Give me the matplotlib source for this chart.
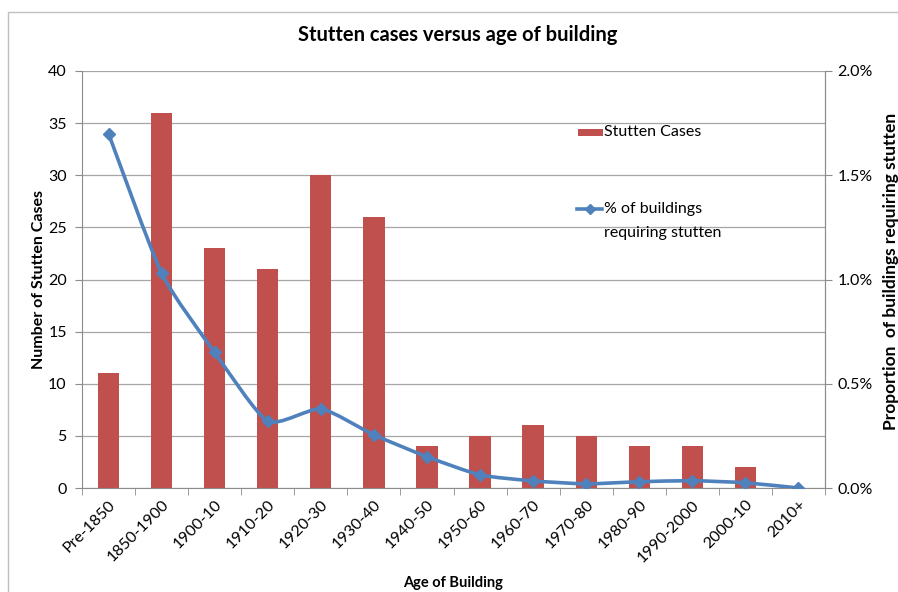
import matplotlib
matplotlib.use("Agg")
import matplotlib.pyplot as plt
import numpy as np
from matplotlib.path import Path
from matplotlib.patches import PathPatch, Rectangle
from matplotlib.lines import Line2D
from matplotlib.ticker import FuncFormatter, MultipleLocator, FixedLocator

plt.rcParams['font.family'] = ['Lato', 'DejaVu Sans']

categories = ["Pre-1850", "1850-1900", "1900-10", "1910-20", "1920-30", "1930-40",
              "1940-50", "1950-60", "1960-70", "1970-80", "1980-90", "1990-2000",
              "2000-10", "2010+"]
stutten_cases = [11, 36, 23, 21, 30, 26, 4, 5, 6, 5, 4, 4, 2, 0]
pct_requiring = [1.70, 1.03, 0.65, 0.32, 0.38, 0.255, 0.15, 0.063, 0.034, 0.02,
                 0.03, 0.035, 0.025, 0.0]

bar_color = "#C0504D"
line_color = "#4F81BD"
grid_color = "#A6A6A6"
axis_color = "#8C8C8C"

W, H = 898, 592
fig = plt.figure(figsize=(W/100, H/100), dpi=100)
fig.patches.append(Rectangle((8/W, -0.05), 1.2, 0.05 + (1 - 12/H), transform=fig.transFigure,
                             fill=False, edgecolor="#BFBFBF", linewidth=1.0))

ax = fig.add_axes([82/W, 1 - 488/H, (825 - 82)/W, (488 - 71)/H])
x = np.arange(len(categories))
ax.bar(x, stutten_cases, width=0.4, color=bar_color, zorder=2)
ax.set_xlim(-0.5, len(categories) - 0.5)
ax.set_ylim(0, 40)
ax.yaxis.set_major_locator(MultipleLocator(5))
ax.grid(axis='y', color=grid_color, linewidth=0.9, zorder=0)
ax.set_axisbelow(True)
ax.spines['top'].set_visible(False)
for s in ['left', 'right', 'bottom']:
    ax.spines[s].set_color(axis_color)
ax.set_xticks(x)
ax.set_xticklabels(categories, rotation=45, ha='right', rotation_mode='anchor', fontsize=11.5)
ax.tick_params(axis='x', length=0, pad=7)
ax.xaxis.set_minor_locator(FixedLocator(np.arange(-0.5, len(categories), 1.0)))
ax.tick_params(axis='x', which='minor', length=5, color=axis_color, direction='out')
ax.tick_params(axis='y', length=5, color=axis_color, labelsize=11.5, pad=6)
ax.set_ylabel("Number of Stutten Cases", fontsize=11.5, fontweight='bold')
ax.yaxis.set_label_coords((46 - 82)/743, 0.5)
ax.set_xlabel("Age of Building", fontsize=10.5, fontweight='bold', labelpad=8)

ax2 = ax.twinx()
ax2.set_ylim(0, 2.0)
ax2.yaxis.set_major_locator(MultipleLocator(0.5))
ax2.yaxis.set_major_formatter(FuncFormatter(lambda v, p: f"{v:.1f}%"))
ax2.tick_params(axis='y', length=5, color=axis_color, labelsize=11.5, pad=4)
for s in ['top', 'left', 'bottom']:
    ax2.spines[s].set_visible(False)
ax2.spines['right'].set_color(axis_color)
ax2.set_ylabel("Proportion  of buildings requiring stutten", fontsize=12.5, fontweight='bold')
ax2.yaxis.set_label_coords((883 - 82)/743, 0.52)

# Smoothed line (Bezier through the data points, Excel-like smoothing)
xs = x.astype(float)
ys = np.array(pct_requiring, dtype=float)
verts = [(xs[0], ys[0])]
codes = [Path.MOVETO]
t = 0.1
for i in range(len(xs) - 1):
    p0 = (xs[i-1], ys[i-1]) if i > 0 else (xs[i], ys[i])
    p1 = (xs[i], ys[i])
    p2 = (xs[i+1], ys[i+1])
    p3 = (xs[i+2], ys[i+2]) if i + 2 < len(xs) else (xs[i+1], ys[i+1])
    c1 = (p1[0] + (p2[0] - p0[0]) * t, p1[1] + (p2[1] - p0[1]) * t)
    c2 = (p2[0] - (p3[0] - p1[0]) * t, p2[1] - (p3[1] - p1[1]) * t)
    verts += [c1, c2, p2]
    codes += [Path.CURVE4] * 3
ax2.add_patch(PathPatch(Path(verts, codes), facecolor='none', edgecolor=line_color,
                        linewidth=2.6, zorder=3, capstyle='round', joinstyle='round'))
ax2.plot(xs, ys, linestyle='none', marker='D', markersize=6, color=line_color, zorder=4)

fig.text(458/W, 1 - 35/H, "Stutten cases versus age of building", ha='center', va='center',
         fontsize=14.5, fontweight='bold')

# Legend (drawn manually to match Excel's layout)
fig.patches.append(Rectangle((578/W, 1 - 136/H), 25/W, 7/H, transform=fig.transFigure,
                             facecolor=bar_color, edgecolor='none'))
fig.text(604/W, 1 - 132/H, "Stutten Cases", ha='left', va='center', fontsize=11.5)
fig.lines.append(Line2D([577/W, 602/W], [1 - 209/H, 1 - 209/H], transform=fig.transFigure,
                        color=line_color, linewidth=2.6))
fig.lines.append(Line2D([590/W], [1 - 209/H], transform=fig.transFigure, color=line_color,
                        marker='D', markersize=5, linestyle='none'))
fig.text(604/W, 1 - 209/H, "% of buildings", ha='left', va='center', fontsize=11.5)
fig.text(604/W, 1 - 233/H, "requiring stutten", ha='left', va='center', fontsize=11.5)

fig.savefig("out.png", dpi=100)
